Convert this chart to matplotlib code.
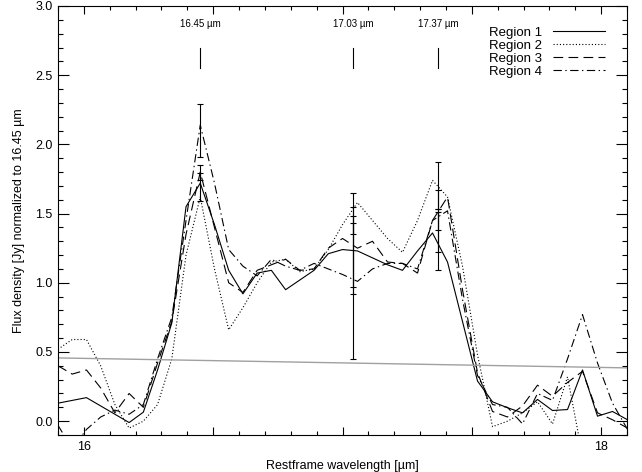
import numpy as np
import matplotlib
matplotlib.use("Agg")
import matplotlib.pyplot as plt

plt.rcParams['font.family'] = ['Liberation Sans', 'DejaVu Sans']
plt.rcParams['lines.scale_dashes'] = False

# restframe wavelength grid [um]
wave = [15.90, 15.955, 16.01, 16.065, 16.12, 16.175, 16.23, 16.285, 16.34, 16.395,
        16.45, 16.505, 16.56, 16.615, 16.67, 16.725, 16.78, 16.835, 16.89, 16.945,
        17.0, 17.058, 17.116, 17.174, 17.232, 17.29, 17.348, 17.406, 17.464, 17.522,
        17.58, 17.638, 17.696, 17.754, 17.812, 17.87, 17.928, 17.986, 18.044, 18.102]

region1 = [0.13, 0.15, 0.17, 0.11, 0.05, -0.01, 0.065, 0.37, 0.71, 1.55,
           1.72, 1.42, 1.09, 0.92, 1.07, 1.09, 0.95, 1.02, 1.09, 1.21,
           1.24, 1.23, 1.18, 1.13, 1.09, 1.23, 1.36, 1.15, 0.72, 0.29,
           0.14, 0.097, 0.06, 0.157, 0.077, 0.084, 0.37, 0.036, 0.07, 0.01]
region2 = [0.52, 0.59, 0.59, 0.40, 0.12, -0.05, 0.0, 0.12, 0.45, 1.2,
           1.62, 1.1, 0.66, 0.82, 1.0, 1.15, 1.17, 1.08, 1.10, 1.24,
           1.42, 1.58, 1.45, 1.32, 1.22, 1.45, 1.74, 1.62, 1.12, 0.48,
           -0.04, 0.0, 0.06, 0.14, -0.02, 0.32, -0.25, -0.3, -0.3, -0.3]
region3 = [0.40, 0.34, 0.37, 0.24, 0.06, 0.20, 0.10, 0.42, 0.72, 1.35,
           1.80, 1.40, 1.00, 0.93, 1.09, 1.13, 1.17, 1.09, 1.10, 1.25,
           1.32, 1.25, 1.30, 1.15, 1.14, 1.07, 1.45, 1.62, 0.95, 0.35,
           0.07, 0.03, 0.11, 0.26, 0.18, 0.28, 0.36, 0.06, 0.01, -0.05]
region4 = [-0.03, -0.20, -0.06, 0.03, 0.08, 0.05, 0.12, 0.45, 0.75, 1.45,
           2.14, 1.72, 1.24, 1.12, 1.05, 1.17, 1.12, 1.09, 1.14, 1.10,
           1.06, 1.01, 1.10, 1.14, 1.14, 1.10, 1.45, 1.52, 0.88, 0.33,
           0.12, 0.10, -0.02, 0.20, 0.15, 0.45, 0.77, 0.42, 0.13, -0.06]

labels = ["Region 1", "Region 2", "Region 3", "Region 4"]

# continuum (grey) line end points
cont_x = [15.9, 18.1]
cont_y = [0.457, 0.385]

# line markers
line_pos = [16.45, 17.04, 17.37]
line_txt = ["16.45 \u00b5m", "17.03 \u00b5m", "17.37 \u00b5m"]

# error bars (x, low, high)
err_x = [16.45, 16.45, 16.45, 17.04, 17.04, 17.04, 17.04, 17.37, 17.37, 17.37, 17.37]
err_lo = [1.91, 1.59, 1.74, 0.45, 0.92, 0.97, 1.35, 1.53, 1.09, 1.22, 1.38]
err_hi = [2.29, 1.85, 1.79, 1.65, 1.55, 1.48, 1.43, 1.87, 1.67, 1.515, 1.53]

fig = plt.figure(figsize=(6.42, 4.72), dpi=100)
ax = fig.add_axes([58/642, 1-435/472, 569/642, 429/472])

styles = ['-', (0, (0.8, 1.5)), (0, (7, 3.8)), (0, (6, 2.5, 1, 2.5))]
for vals, ls, lab in zip([region1, region2, region3, region4], styles, labels):
    ax.plot(wave, vals, color='k', lw=0.8, linestyle=ls, label=lab)

ax.plot(cont_x, cont_y, color='#a0a0a0', lw=1.0)

err_x = np.array(err_x)
err_lo = np.array(err_lo)
err_hi = np.array(err_hi)
mid = (err_lo + err_hi) / 2
ax.errorbar(err_x, mid, yerr=[mid - err_lo, err_hi - mid], fmt='none',
            ecolor='k', elinewidth=0.8, capsize=2.5, capthick=0.8)

for xp, txt in zip(line_pos, line_txt):
    ax.plot([xp, xp], [2.55, 2.70], color='k', lw=0.8)
    ax.text(xp, 2.87, txt, ha='center', va='center', fontsize=7)

ax.set_xlim(15.9, 18.1)
ax.set_ylim(-0.1, 3.0)
ax.set_xticks([16, 16.5, 17, 17.5, 18])
ax.set_xticklabels(['16', '', '', '', '18'])
ax.set_xticks(np.arange(15.9, 18.11, 0.1), minor=True)
ax.set_yticks([0.0, 0.5, 1.0, 1.5, 2.0, 2.5, 3.0])
ax.set_yticklabels(['0.0', '0.5', '1.0', '1.5', '2.0', '2.5', '3.0'])
ax.set_yticks(np.arange(-0.1, 3.01, 0.1), minor=True)
ax.tick_params(axis='both', which='both', direction='in', top=True, right=True,
               labelsize=9, width=0.8)
ax.tick_params(axis='y', which='major', length=8, pad=4)
ax.tick_params(axis='y', which='minor', length=3.6)
ax.tick_params(axis='x', which='major', length=6, pad=4)
ax.tick_params(axis='x', which='minor', length=3)
for s in ax.spines.values():
    s.set_linewidth(0.8)

ax.set_xlabel("Restframe wavelength [\u00b5m]", fontsize=9, labelpad=5)
ax.set_ylabel("Flux density [Jy] normalized to 16.45 \u00b5m", fontsize=9, labelpad=7)

ax.legend(loc='upper right', bbox_to_anchor=(0.962, 0.952), frameon=False,
          markerfirst=False, fontsize=9.5, handlelength=4.0, handletextpad=0.8,
          labelspacing=0.05, borderpad=0, borderaxespad=0)

fig.savefig("out.png", dpi=100)
